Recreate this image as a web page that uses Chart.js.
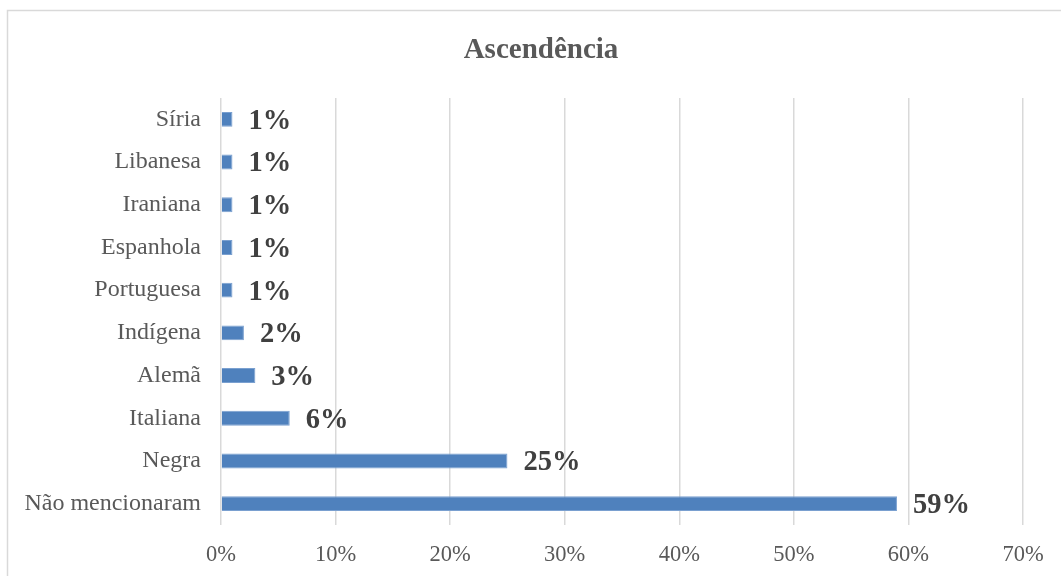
<!DOCTYPE html>
<html>
<head>
<meta charset="utf-8">
<script src="https://cdn.jsdelivr.net/npm/chart.js@4"></script>
<style>
  html, body { margin: 0; padding: 0; background: #fff; }
  #wrap { width: 1061px; height: 576px; position: relative; }
</style>
</head>
<body>
<div id="wrap"><canvas id="chart" width="1061" height="576"></canvas></div>
<script>
// dados
const categories = ['Síria', 'Libanesa', 'Iraniana', 'Espanhola', 'Portuguesa', 'Indígena', 'Alemã', 'Italiana', 'Negra', 'Não mencionaram'];
const values = [1, 1, 1, 1, 1, 2, 3, 6, 25, 59];
const xTicks = [0, 10, 20, 30, 40, 50, 60, 70];
const titleText = 'Ascendência';

const serif = '"Liberation Serif", "Times New Roman", serif';

// moldura e título do gráfico
const framePlugin = {
    id: 'frame',
    beforeDraw(chart) {
        const c = chart.ctx;
        c.save();
        c.fillStyle = '#fff';
        c.fillRect(0, 0, chart.width, chart.height);
        c.strokeStyle = '#d9d9d9';
        c.lineWidth = 1.5;
        c.strokeRect(7.5, 10.5, 1100, 700);
        c.font = 'bold 29px ' + serif;
        c.fillStyle = '#595959';
        c.textAlign = 'center';
        c.textBaseline = 'middle';
        c.fillText(titleText, 541, 51);
        c.restore();
    }
};

// rótulos de valor nas barras
const labelPlugin = {
    id: 'valueLabels',
    afterDatasetsDraw(chart) {
        const c = chart.ctx;
        const meta = chart.getDatasetMeta(0);
        c.save();
        c.font = 'bold 28.5px ' + serif;
        c.fillStyle = '#404040';
        c.textAlign = 'left';
        c.textBaseline = 'middle';
        meta.data.forEach((bar, i) => {
            c.fillText(values[i] + '%', bar.x + 16, bar.y + 2);
        });
        c.restore();
    }
};

const ctx = document.getElementById('chart').getContext('2d');
new Chart(ctx, {
    type: 'bar',
    data: {
        labels: categories,
        datasets: [{
            data: values,
            backgroundColor: '#4f81bd',
            borderColor: '#7aa0d0',
            borderWidth: 1,
            barPercentage: 0.7,
            categoryPercentage: 0.5
        }]
    },
    options: {
        indexAxis: 'y',
        responsive: false,
        animation: false,
        layout: { padding: { left: 0, right: 38, top: 98, bottom: 0 } },
        plugins: {
            legend: { display: false },
            tooltip: { enabled: false },
            title: { display: false }
        },
        scales: {
            x: {
                min: 0,
                max: 70,
                afterBuildTicks(scale) {
                    scale.ticks = xTicks.map(v => ({ value: v }));
                },
                afterFit(scale) { scale.height = 51; },
                ticks: {
                    callback: v => v + '%',
                    color: '#595959',
                    font: { family: serif, size: 22.5 },
                    padding: 17
                },
                grid: { color: '#d9d9d9', lineWidth: 1.5, drawTicks: false },
                border: { display: false }
            },
            y: {
                afterFit(scale) { scale.width = 221; },
                ticks: {
                    color: '#595959',
                    font: { family: serif, size: 24 },
                    padding: 20
                },
                grid: { display: false, drawTicks: false },
                border: { display: false }
            }
        }
    },
    plugins: [framePlugin, labelPlugin]
});
</script>
</body>
</html>
